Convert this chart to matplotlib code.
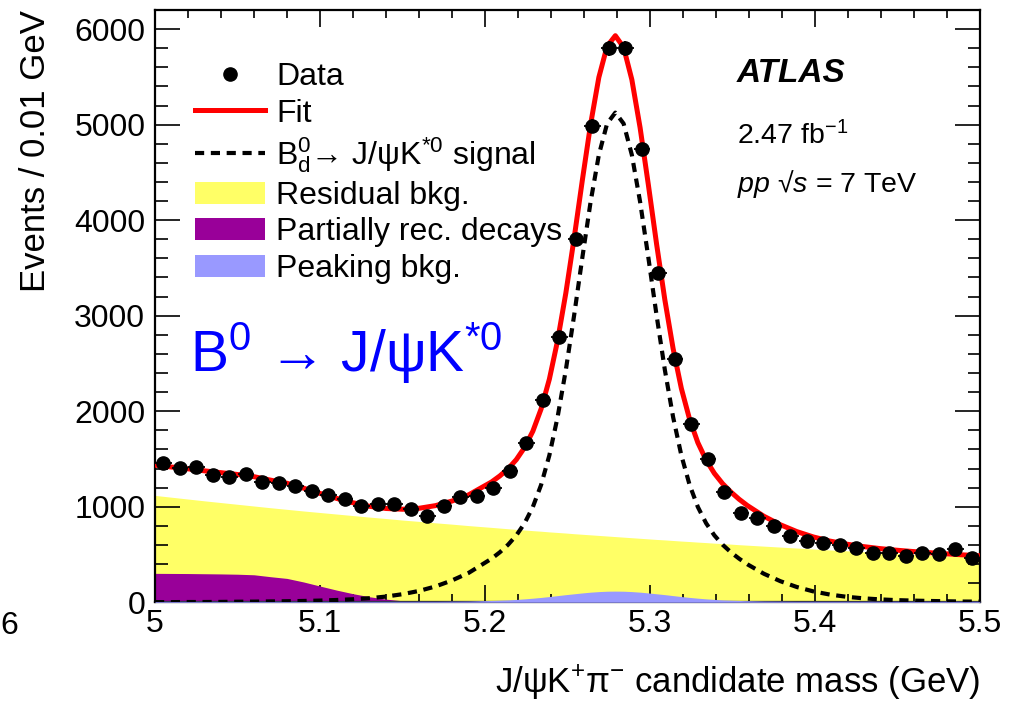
import numpy as np
import matplotlib
matplotlib.use("Agg")
import matplotlib.pyplot as plt
from matplotlib.lines import Line2D
from matplotlib.patches import Patch

plt.rcParams['font.family'] = ['Liberation Sans', 'DejaVu Sans']
plt.rcParams['mathtext.fontset'] = 'custom'
plt.rcParams['mathtext.rm'] = 'Liberation Sans'
plt.rcParams['mathtext.it'] = 'Liberation Sans:italic'
plt.rcParams['mathtext.bf'] = 'Liberation Sans:bold'
plt.rcParams['mathtext.fallback'] = 'stixsans'

# ---------------- data (bin centres, events / 0.01 GeV) ----------------
mass = [5.005, 5.015, 5.025, 5.035, 5.045, 5.055, 5.065, 5.075, 5.085, 5.095,
        5.105, 5.115, 5.125, 5.135, 5.145, 5.155, 5.165, 5.175, 5.185, 5.195,
        5.205, 5.215, 5.225, 5.235, 5.245, 5.255, 5.265, 5.275, 5.285, 5.295,
        5.305, 5.315, 5.325, 5.335, 5.345, 5.355, 5.365, 5.375, 5.385, 5.395,
        5.405, 5.415, 5.425, 5.435, 5.445, 5.455, 5.465, 5.475, 5.485, 5.495]
events = [1455, 1410, 1417, 1330, 1316, 1347, 1264, 1253, 1218, 1166,
          1124, 1086, 1009, 1033, 1026, 981, 904, 1005, 1106, 1108,
          1201, 1375, 1672, 2115, 2778, 3801, 4988, 5798, 5798, 4743,
          3452, 2552, 1864, 1497, 1155, 939, 880, 799, 694, 642,
          625, 597, 573, 520, 520, 485, 520, 503, 555, 468]
bin_half_width = 0.005

# ---------------- fit components ----------------
curve_mass = [5.00, 5.01, 5.02, 5.03, 5.04, 5.05, 5.06, 5.07, 5.08, 5.09,
              5.10, 5.11, 5.12, 5.13, 5.14, 5.15, 5.16, 5.17, 5.18, 5.19,
              5.204, 5.209, 5.214, 5.219, 5.224, 5.229, 5.234, 5.239, 5.244, 5.249,
              5.254, 5.259, 5.264, 5.269, 5.274, 5.279, 5.284, 5.289, 5.294, 5.299,
              5.304, 5.309, 5.314, 5.319, 5.324, 5.329, 5.334, 5.339, 5.344, 5.349,
              5.354, 5.359,
              5.369, 5.379, 5.389, 5.399, 5.409, 5.419, 5.429, 5.439, 5.449, 5.459,
              5.469, 5.479, 5.489, 5.50]
signal = [2, 2, 3, 3, 4, 6, 7, 9, 11, 14,
          18, 24, 32, 43, 60, 85, 119, 166, 229, 307,
          457, 524, 603, 701, 828, 998, 1229, 1538, 1939, 2433,
          3002, 3609, 4192, 4683, 5011, 5126, 5011, 4683, 4192, 3609,
          3002, 2433, 1939, 1538, 1229, 998, 828, 701, 603, 524,
          457, 398,
          299, 221, 160, 114, 81, 58, 42, 31, 23, 18,
          14, 11, 8, 7]
residual = [1119, 1100, 1081, 1062, 1044, 1026, 1008, 990, 973, 956,
            940, 924, 908, 892, 877, 861, 847, 832, 818, 803,
            784, 777, 770, 763, 757, 750, 744, 737, 731, 725,
            718, 712, 706, 700, 694, 688, 682, 676, 670, 664,
            658, 653, 647, 641, 636, 630, 625, 619, 614, 609,
            603, 598,
            588, 578, 568, 558, 548, 539, 530, 520, 511, 502,
            494, 485, 477, 468]
partial = [303, 302, 301, 299, 297, 294, 288, 268, 250, 213,
           170, 128, 90, 58, 33, 16, 6, 2, 0, 0,
           0, 0, 0, 0, 0, 0, 0, 0, 0, 0,
           0, 0, 0, 0, 0, 0, 0, 0, 0, 0,
           0, 0, 0, 0, 0, 0, 0, 0, 0, 0,
           0, 0,
           0, 0, 0, 0, 0, 0, 0, 0, 0, 0,
           0, 0, 0, 0]
peaking = [12, 12, 12, 12, 12, 12, 12, 12, 12, 12,
           12, 12, 12, 12, 12, 12, 12, 12, 13, 14,
           19, 22, 25, 30, 36, 43, 51, 60, 70, 80,
           89, 98, 106, 112, 116, 117, 116, 112, 106, 98,
           89, 80, 70, 60, 51, 43, 36, 30, 25, 22,
           19, 17,
           14, 13, 12, 12, 12, 12, 12, 12, 12, 12,
           12, 12, 12, 12]

x_ticks = [5.0, 5.1, 5.2, 5.3, 5.4, 5.5]
x_ticklabels = ['5', '5.1', '5.2', '5.3', '5.4', '5.5']
y_ticks = [0, 1000, 2000, 3000, 4000, 5000, 6000]

legend_labels = ['Data', 'Fit',
                 r'$\mathrm{B}^{0}_{\mathrm{d}}$→ J/ψK$^{*0}$ signal',
                 'Residual bkg.', 'Partially rec. decays', 'Peaking bkg.']

# ---------------- colours ----------------
c_yellow = '#ffff66'
c_purple = '#990099'
c_lblue = '#9999ff'
c_red = '#ff0000'

cm = np.array(curve_mass)
sig = np.array(signal, float)
res = np.array(residual, float)
par = np.array(partial, float)
pk = np.array(peaking, float)
fit = sig + res + par + pk
ev = np.array(events, float)

fig = plt.figure(figsize=(10.15, 7.03), dpi=100)
ax = fig.add_axes([155/1015, 1 - 602.3/703, 825/1015, 592.3/703])

ax.fill_between(cm, 0, res, color=c_yellow, lw=0, zorder=1)
ax.fill_between(cm, 0, par, color=c_purple, lw=0, zorder=2)
ax.fill_between(cm, 0, pk, color=c_lblue, lw=0, zorder=3)
ax.plot(cm, sig, color='black', lw=3, ls=(0, (2.2, 1.6)), zorder=4)
ax.plot(cm, fit, color=c_red, lw=3.6, zorder=5)
ax.errorbar(mass, ev, yerr=np.sqrt(ev), xerr=bin_half_width, fmt='o',
            color='black', ms=9.5, elinewidth=1.3, capsize=0, zorder=6)

ax.set_xlim(5.0, 5.5)
ax.set_ylim(0, 6200)
ax.set_xticks(x_ticks)
ax.set_xticklabels(x_ticklabels)
ax.set_xticks(np.arange(5.0, 5.5001, 0.02), minor=True)
ax.set_yticks(y_ticks)
ax.set_yticks(np.arange(0, 6201, 200), minor=True)

ax.tick_params(axis='both', which='both', direction='in', top=True, right=True,
               labelsize=23, width=1.2, colors='black')
ax.tick_params(axis='x', which='major', length=12.5, pad=5)
ax.tick_params(axis='x', which='minor', length=6)
ax.tick_params(axis='y', which='major', length=18, pad=7)
ax.tick_params(axis='y', which='minor', length=9)
for s in ax.spines.values():
    s.set_linewidth(1.6)

ax.set_xlabel(r'J/ψK$^{+}$π$^{-}$ candidate mass (GeV)', fontsize=25, loc='right')
ax.xaxis.set_label_coords(1.0, -0.104)
ax.set_ylabel('Events / 0.01 GeV', fontsize=25, loc='top')
ax.yaxis.set_label_coords(-0.125, 1.0)

handles = [Line2D([], [], marker='o', ls='none', color='black', ms=9.5),
           Line2D([], [], color=c_red, lw=3.6),
           Line2D([], [], color='black', lw=3, ls=(0, (2.2, 1.6))),
           Patch(facecolor=c_yellow, edgecolor='none'),
           Patch(facecolor=c_purple, edgecolor='none'),
           Patch(facecolor=c_lblue, edgecolor='none')]
ax.legend(handles, legend_labels, loc='upper left', bbox_to_anchor=(0.048, 0.912),
          frameon=False, fontsize=23, handlelength=2.2, handletextpad=0.35,
          labelspacing=0.2, borderpad=0, borderaxespad=0)

ax.text(0.0424, 0.389, r'B$^{0}$ → J/ψK$^{*0}$', transform=ax.transAxes,
        fontsize=41, color='#0000ff', ha='left', va='baseline')
ax.text(0.7055, 0.8785, 'ATLAS', transform=ax.transAxes, fontsize=24,
        fontweight='bold', fontstyle='italic', ha='left', va='baseline')
ax.text(0.7055, 0.7726, r'2.47 fb$^{-1}$', transform=ax.transAxes, fontsize=20.5,
        ha='left', va='baseline')
ax.text(0.7055, 0.692, r'$pp$ √$s$ = 7 TeV', transform=ax.transAxes,
        fontsize=20.5, ha='left', va='baseline')

fig.text(0.0, 1 - 611/703, '6', fontsize=23, ha='left', va='top')

fig.savefig('out.png', dpi=100)
